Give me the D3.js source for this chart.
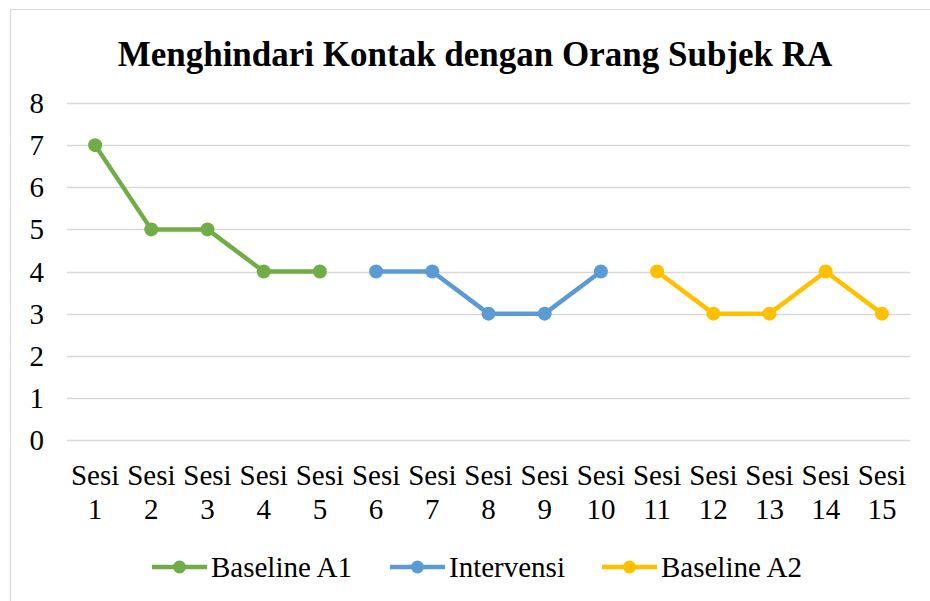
<!DOCTYPE html>
<html>
<head>
<meta charset="utf-8">
<script src="https://cdn.jsdelivr.net/npm/d3@7"></script>
<style>
  html, body { margin: 0; padding: 0; background: #fff; }
  svg { display: block; }
  text { font-family: "Liberation Serif", "Times New Roman", serif; fill: #000; }
</style>
</head>
<body>
<script>
// Data
const sessions = d3.range(1, 16).map(i => "Sesi " + i);
const yTicks = [0, 1, 2, 3, 4, 5, 6, 7, 8];
const baselineA1 = [7, 5, 5, 4, 4];
const intervensi = [4, 4, 3, 3, 4];
const baselineA2 = [4, 3, 3, 4, 3];
const seriesNames = ["Baseline A1", "Intervensi", "Baseline A2"];
const seriesColors = ["#70AD47", "#5B9BD5", "#FFC000"];

const series = [
    {name: seriesNames[0], color: seriesColors[0], start: 0, values: baselineA1},
    {name: seriesNames[1], color: seriesColors[1], start: 5, values: intervensi},
    {name: seriesNames[2], color: seriesColors[2], start: 10, values: baselineA2}
];

// Size
const width = 930, height = 601;
const fontFamily = "'Liberation Serif', 'Times New Roman', serif";

const svg = d3.select("body").append("svg")
    .attr("width", width)
    .attr("height", height);

// Chart border
svg.append("rect")
    .attr("x", 10.5).attr("y", 9.5)
    .attr("width", width + 10).attr("height", height + 10)
    .attr("fill", "#fff")
    .attr("stroke", "#d9d9d9");

// Title
svg.append("text")
    .attr("x", 475).attr("y", 66)
    .attr("text-anchor", "middle")
    .attr("font-family", fontFamily)
    .style("font-size", "35px")
    .style("font-weight", "bold")
    .text("Menghindari Kontak dengan Orang Subjek RA");

// Scales
const x = d3.scaleBand()
    .domain(sessions)
    .range([67, 910]);
const y = d3.scaleLinear()
    .domain([0, 8])
    .range([440, 103]);

// Gridlines
svg.append("g")
    .selectAll("line")
    .data(yTicks)
    .join("line")
    .attr("x1", x.range()[0]).attr("x2", x.range()[1])
    .attr("y1", d => Math.round(y(d)) + 0.5)
    .attr("y2", d => Math.round(y(d)) + 0.5)
    .attr("stroke", "#d9d9d9")
    .attr("stroke-width", 1.3);

// Y labels
svg.append("g")
    .selectAll("text")
    .data(yTicks)
    .join("text")
    .attr("x", 44)
    .attr("y", d => y(d) + 10)
    .attr("text-anchor", "end")
    .attr("font-family", fontFamily)
    .style("font-size", "29px")
    .text(d => d);

// X labels (two lines)
const xl = svg.append("g")
    .selectAll("text")
    .data(sessions)
    .join("text")
    .attr("text-anchor", "middle")
    .attr("font-family", fontFamily)
    .style("font-size", "29px");
xl.append("tspan")
    .attr("x", d => x(d) + x.bandwidth() / 2)
    .attr("y", 485)
    .text(d => d.split(" ")[0]);
xl.append("tspan")
    .attr("x", d => x(d) + x.bandwidth() / 2)
    .attr("y", 519)
    .text(d => d.split(" ")[1]);

// Lines and markers
const line = d3.line()
    .x(d => x(sessions[d.i]) + x.bandwidth() / 2)
    .y(d => y(d.v));

series.forEach(s => {
    const pts = s.values.map((v, j) => ({i: s.start + j, v: v}));
    svg.append("path")
        .datum(pts)
        .attr("d", line)
        .attr("fill", "none")
        .attr("stroke", s.color)
        .attr("stroke-width", 4.5)
        .attr("stroke-linejoin", "round")
        .attr("stroke-linecap", "round");
    svg.append("g")
        .selectAll("circle")
        .data(pts)
        .join("circle")
        .attr("cx", d => x(sessions[d.i]) + x.bandwidth() / 2)
        .attr("cy", d => y(d.v))
        .attr("r", 7)
        .attr("fill", s.color);
});

// Legend
const legendX = [152, 390, 602];
const legend = svg.append("g")
    .selectAll("g")
    .data(series)
    .join("g")
    .attr("transform", (d, i) => `translate(${legendX[i]},567)`);
legend.append("line")
    .attr("x1", 0).attr("x2", 55)
    .attr("stroke", d => d.color)
    .attr("stroke-width", 4.5);
legend.append("circle")
    .attr("cx", 27.5).attr("r", 6.5)
    .attr("fill", d => d.color);
legend.append("text")
    .attr("x", 59)
    .attr("y", 10)
    .attr("font-family", fontFamily)
    .style("font-size", "29px")
    .text(d => d.name);
</script>
</body>
</html>
